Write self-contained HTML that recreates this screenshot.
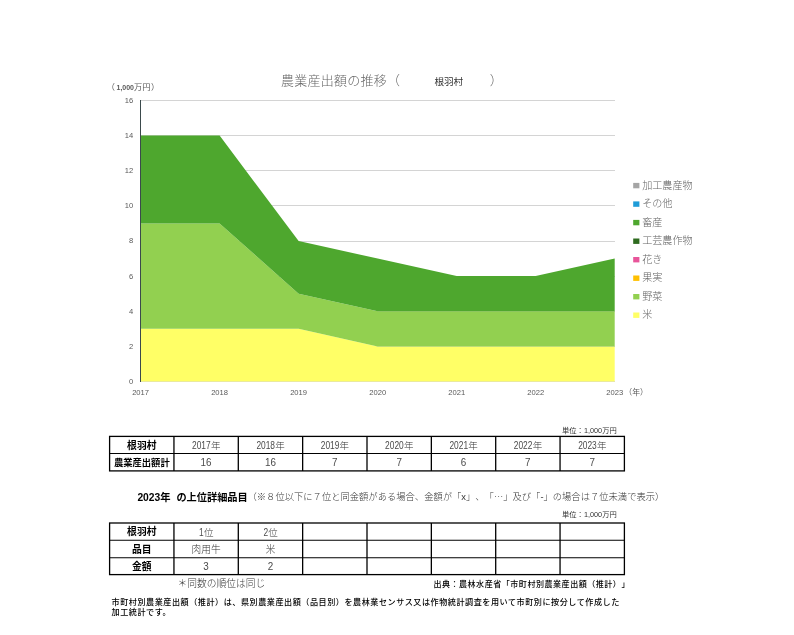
<!DOCTYPE html>
<html lang="ja"><head><meta charset="utf-8"><title>農業産出額の推移（根羽村）</title>
<style>
html,body{margin:0;padding:0;background:#fff;}
body{width:794px;height:635px;overflow:hidden;}
svg{display:block;}
</style></head><body>
<svg width="794" height="635" viewBox="0 0 794 635" font-family="'Liberation Sans','Noto Sans CJK JP',sans-serif">
<g shape-rendering="crispEdges">
<line x1="140.6" x2="614.7" y1="381.50" y2="381.50" stroke="#d4d4d4" stroke-width="1"/>
<line x1="140.6" x2="614.7" y1="346.38" y2="346.38" stroke="#d4d4d4" stroke-width="1"/>
<line x1="140.6" x2="614.7" y1="311.25" y2="311.25" stroke="#d4d4d4" stroke-width="1"/>
<line x1="140.6" x2="614.7" y1="276.12" y2="276.12" stroke="#d4d4d4" stroke-width="1"/>
<line x1="140.6" x2="614.7" y1="241.00" y2="241.00" stroke="#d4d4d4" stroke-width="1"/>
<line x1="140.6" x2="614.7" y1="205.88" y2="205.88" stroke="#d4d4d4" stroke-width="1"/>
<line x1="140.6" x2="614.7" y1="170.75" y2="170.75" stroke="#d4d4d4" stroke-width="1"/>
<line x1="140.6" x2="614.7" y1="135.62" y2="135.62" stroke="#d4d4d4" stroke-width="1"/>
<line x1="140.6" x2="614.7" y1="100.50" y2="100.50" stroke="#d4d4d4" stroke-width="1"/>
</g>
<polygon fill="#ffff66" points="140.60,328.81 219.62,328.81 298.63,328.81 377.65,346.38 456.67,346.38 535.68,346.38 614.70,346.38 614.70,381.50 535.68,381.50 456.67,381.50 377.65,381.50 298.63,381.50 219.62,381.50 140.60,381.50"/>
<polygon fill="#92d050" points="140.60,223.44 219.62,223.44 298.63,293.69 377.65,311.25 456.67,311.25 535.68,311.25 614.70,311.25 614.70,346.38 535.68,346.38 456.67,346.38 377.65,346.38 298.63,328.81 219.62,328.81 140.60,328.81"/>
<polygon fill="#4ea72e" points="140.60,135.62 219.62,135.62 298.63,241.00 377.65,258.56 456.67,276.12 535.68,276.12 614.70,258.56 614.70,311.25 535.68,311.25 456.67,311.25 377.65,311.25 298.63,293.69 219.62,223.44 140.60,223.44"/>
<line x1="140.5" x2="140.5" y1="100" y2="382" stroke="#3b4a4c" stroke-width="1" shape-rendering="crispEdges"/>
<g font-size="7.6" fill="#595959">
<text x="133.3" y="383.9" text-anchor="end">0</text>
<text x="133.3" y="348.8" text-anchor="end">2</text>
<text x="133.3" y="313.6" text-anchor="end">4</text>
<text x="133.3" y="278.5" text-anchor="end">6</text>
<text x="133.3" y="243.4" text-anchor="end">8</text>
<text x="133.3" y="208.3" text-anchor="end">10</text>
<text x="133.3" y="173.2" text-anchor="end">12</text>
<text x="133.3" y="138.0" text-anchor="end">14</text>
<text x="133.3" y="102.9" text-anchor="end">16</text>
<text x="140.6" y="394.6" text-anchor="middle">2017</text>
<text x="219.6" y="394.6" text-anchor="middle">2018</text>
<text x="298.6" y="394.6" text-anchor="middle">2019</text>
<text x="377.7" y="394.6" text-anchor="middle">2020</text>
<text x="456.7" y="394.6" text-anchor="middle">2021</text>
<text x="535.7" y="394.6" text-anchor="middle">2022</text>
<text x="614.7" y="394.6" text-anchor="middle">2023</text>
<text x="624.3" y="394.9" font-size="7.9">（年）</text>
<text x="106.8" y="90.2" font-size="8.2">（<tspan font-size="7" font-weight="700" dx="1.5">1,000</tspan>万円<tspan dx="0.5">）</tspan></text>
</g>
<g fill="#666" font-weight="300">
<text x="281" y="85.2" font-size="13" letter-spacing="0.25">農業産出額の推移（</text>
<text x="489.8" y="85.2" font-size="13">）</text>
</g>
<text x="434.4" y="85.4" font-size="9.6" fill="#333" font-weight="400">根羽村</text>
<g font-size="10.1" font-weight="300" fill="#646464">
<rect x="633.2" y="182.9" width="6.2" height="5.4" fill="#a5a5a5"/>
<text x="642.2" y="188.8">加工農産物</text>
<rect x="633.2" y="201.4" width="6.2" height="5.4" fill="#1e9cd8"/>
<text x="642.2" y="207.3">その他</text>
<rect x="633.2" y="219.9" width="6.2" height="5.4" fill="#4ea72e"/>
<text x="642.2" y="225.8">畜産</text>
<rect x="633.2" y="238.5" width="6.2" height="5.4" fill="#2e6b1f"/>
<text x="642.2" y="244.4">工芸農作物</text>
<rect x="633.2" y="257.0" width="6.2" height="5.4" fill="#e8559a"/>
<text x="642.2" y="262.9">花き</text>
<rect x="633.2" y="275.5" width="6.2" height="5.4" fill="#ffc000"/>
<text x="642.2" y="281.4">果実</text>
<rect x="633.2" y="294.0" width="6.2" height="5.4" fill="#92d050"/>
<text x="642.2" y="299.9">野菜</text>
<rect x="633.2" y="312.5" width="6.2" height="5.4" fill="#ffff66"/>
<text x="642.2" y="318.4">米</text>
</g>
<g stroke="#000" fill="none">
<rect x="109.60" y="436.40" width="514.80" height="34.50" stroke-width="1.3"/>
<line x1="173.95" x2="173.95" y1="436.40" y2="470.90" stroke-width="1.3"/>
<line x1="238.30" x2="238.30" y1="436.40" y2="470.90" stroke-width="1.3"/>
<line x1="302.65" x2="302.65" y1="436.40" y2="470.90" stroke-width="1.3"/>
<line x1="367.00" x2="367.00" y1="436.40" y2="470.90" stroke-width="1.3"/>
<line x1="431.35" x2="431.35" y1="436.40" y2="470.90" stroke-width="1.3"/>
<line x1="495.70" x2="495.70" y1="436.40" y2="470.90" stroke-width="1.3"/>
<line x1="560.05" x2="560.05" y1="436.40" y2="470.90" stroke-width="1.3"/>
<line x1="109.60" x2="624.40" y1="453.50" y2="453.50" stroke-width="1.1"/>
</g>
<g stroke="#000" fill="none">
<rect x="109.60" y="523.00" width="514.80" height="51.60" stroke-width="1.3"/>
<line x1="173.95" x2="173.95" y1="523.00" y2="574.60" stroke-width="1.3"/>
<line x1="238.30" x2="238.30" y1="523.00" y2="574.60" stroke-width="1.3"/>
<line x1="302.65" x2="302.65" y1="523.00" y2="574.60" stroke-width="1.3"/>
<line x1="367.00" x2="367.00" y1="523.00" y2="574.60" stroke-width="1.3"/>
<line x1="431.35" x2="431.35" y1="523.00" y2="574.60" stroke-width="1.3"/>
<line x1="495.70" x2="495.70" y1="523.00" y2="574.60" stroke-width="1.3"/>
<line x1="560.05" x2="560.05" y1="523.00" y2="574.60" stroke-width="1.3"/>
<line x1="109.60" x2="624.40" y1="540.30" y2="540.30" stroke-width="1.1"/>
<line x1="109.60" x2="624.40" y1="557.70" y2="557.70" stroke-width="1.1"/>
</g>
<text x="141.8" y="449.28" font-size="9.8" font-weight="700" text-anchor="middle" fill="#000">根羽村</text>
<text x="141.8" y="465.55" font-size="9.3" font-weight="700" text-anchor="middle" fill="#000">農業産出額計</text>
<text transform="translate(192.03,449.25) scale(0.84,1)" font-size="10.0" fill="#4a4a4a">2017</text>
<text x="210.92" y="449.25" font-size="9.5" font-weight="300" fill="#333">年</text>
<text transform="translate(256.38,449.25) scale(0.84,1)" font-size="10.0" fill="#4a4a4a">2018</text>
<text x="275.27" y="449.25" font-size="9.5" font-weight="300" fill="#333">年</text>
<text transform="translate(320.73,449.25) scale(0.84,1)" font-size="10.0" fill="#4a4a4a">2019</text>
<text x="339.62" y="449.25" font-size="9.5" font-weight="300" fill="#333">年</text>
<text transform="translate(385.08,449.25) scale(0.84,1)" font-size="10.0" fill="#4a4a4a">2020</text>
<text x="403.97" y="449.25" font-size="9.5" font-weight="300" fill="#333">年</text>
<text transform="translate(449.43,449.25) scale(0.84,1)" font-size="10.0" fill="#4a4a4a">2021</text>
<text x="468.32" y="449.25" font-size="9.5" font-weight="300" fill="#333">年</text>
<text transform="translate(513.78,449.25) scale(0.84,1)" font-size="10.0" fill="#4a4a4a">2022</text>
<text x="532.67" y="449.25" font-size="9.5" font-weight="300" fill="#333">年</text>
<text transform="translate(578.13,449.25) scale(0.84,1)" font-size="10.0" fill="#4a4a4a">2023</text>
<text x="597.02" y="449.25" font-size="9.5" font-weight="300" fill="#333">年</text>
<text transform="translate(200.62,465.87) scale(0.97,1)" font-size="10.2" fill="#4a4a4a">16</text>
<text transform="translate(264.97,465.87) scale(0.97,1)" font-size="10.2" fill="#4a4a4a">16</text>
<text transform="translate(332.07,465.87) scale(0.97,1)" font-size="10.2" fill="#4a4a4a">7</text>
<text transform="translate(396.42,465.87) scale(0.97,1)" font-size="10.2" fill="#4a4a4a">7</text>
<text transform="translate(460.77,465.87) scale(0.97,1)" font-size="10.2" fill="#4a4a4a">6</text>
<text transform="translate(525.12,465.87) scale(0.97,1)" font-size="10.2" fill="#4a4a4a">7</text>
<text transform="translate(589.47,465.87) scale(0.97,1)" font-size="10.2" fill="#4a4a4a">7</text>
<text x="141.8" y="535.18" font-size="9.8" font-weight="700" text-anchor="middle" fill="#000">根羽村</text>
<text x="141.8" y="552.53" font-size="9.8" font-weight="700" text-anchor="middle" fill="#000">品目</text>
<text x="141.8" y="569.68" font-size="9.8" font-weight="700" text-anchor="middle" fill="#000">金額</text>
<text transform="translate(199.04,535.75) scale(0.84,1)" font-size="10.0" fill="#4a4a4a">1</text>
<text x="203.91" y="535.75" font-size="9.5" font-weight="300" fill="#333">位</text>
<text transform="translate(263.39,535.75) scale(0.84,1)" font-size="10.0" fill="#4a4a4a">2</text>
<text x="268.26" y="535.75" font-size="9.5" font-weight="300" fill="#333">位</text>
<text x="206.1" y="553.09" font-size="9.7" font-weight="300" text-anchor="middle" fill="#333">肉用牛</text>
<text x="270.5" y="553.09" font-size="9.7" font-weight="300" text-anchor="middle" fill="#333">米</text>
<text transform="translate(203.37,570.12) scale(0.97,1)" font-size="10.2" fill="#4a4a4a">3</text>
<text transform="translate(267.72,570.12) scale(0.97,1)" font-size="10.2" fill="#4a4a4a">2</text>
<text x="562" y="433.2" font-size="7.3" fill="#333">単位：1,000万円</text>
<text x="562" y="517" font-size="7.3" fill="#333">単位：1,000万円</text>
<text x="137.4" y="500.6" font-size="10.3" font-weight="700" fill="#000">2023年</text>
<text x="176.4" y="500.6" font-size="10.2" font-weight="700" fill="#000">の上位詳細品目</text>
<text x="247.5" y="500.3" font-size="9.3" font-weight="300" fill="#333" style="text-spacing-trim:space-all">（※８位以下に７位と同金額がある場合、金額が「x」、「<tspan font-family="'Noto Sans CJK JP',sans-serif">…</tspan>」及び「-」の場合は７位未満で表示）</text>
<text x="177.5" y="586.6" font-size="9.75" font-weight="300" fill="#333">＊同数の順位は同じ</text>
<text x="433.4" y="586.7" font-size="8.05" letter-spacing="0.5" font-weight="500" fill="#000" style="text-spacing-trim:space-all">出典：農林水産省「市町村別農業産出額（推計）」</text>
<text x="111.6" y="605.1" font-size="8.1" letter-spacing="0.53" font-weight="500" fill="#000" style="text-spacing-trim:space-all">市町村別農業産出額（推計）は、県別農業産出額（品目別）を農林業センサス又は作物統計調査を用いて市町別に按分して作成した</text>
<text x="111.6" y="614.5" font-size="8.1" letter-spacing="0.53" font-weight="500" fill="#000">加工統計です。</text>
</svg>
</body></html>
